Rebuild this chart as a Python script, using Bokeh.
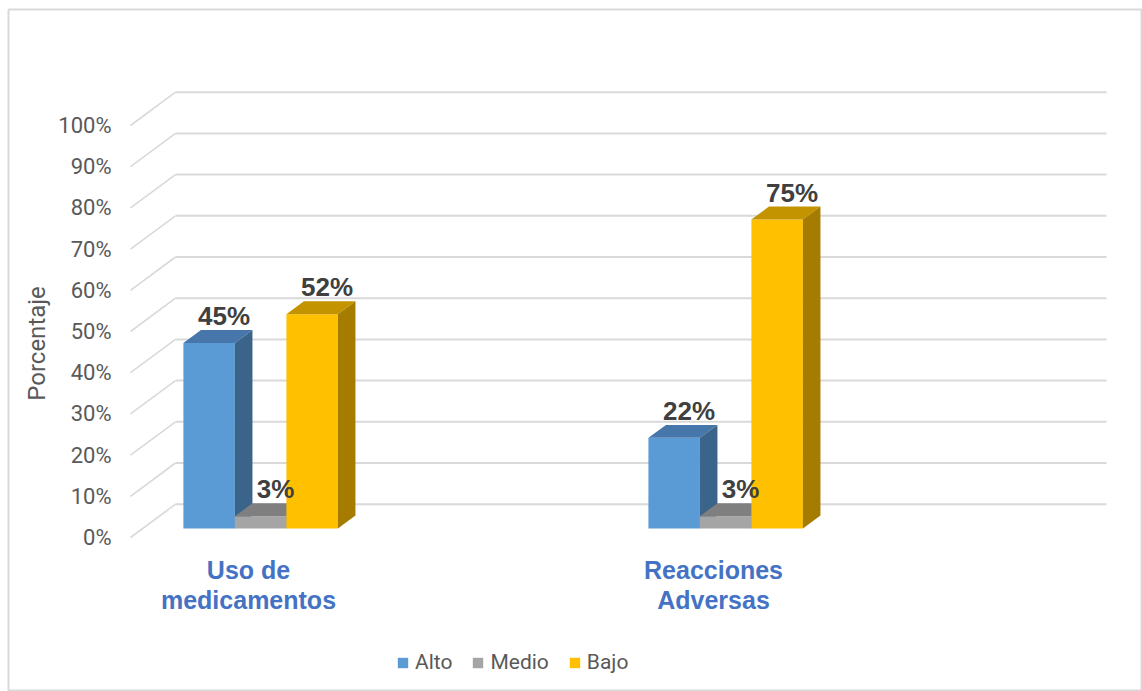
import math
from bokeh.plotting import figure
from bokeh.models import Range1d, Legend, LegendItem
from bokeh.core.properties import value
from bokeh.embed import file_html
from bokeh.resources import INLINE

# ---------------- data ----------------
categories = ["Uso de medicamentos", "Reacciones Adversas"]
category_lines = [["Uso de", "medicamentos"], ["Reacciones", "Adversas"]]
series = ["Alto", "Medio", "Bajo"]
alto = [45, 22]
medio = [3, 3]
bajo = [52, 75]
y_ticks = [0, 10, 20, 30, 40, 50, 60, 70, 80, 90, 100]
y_tick_labels = ["0%", "10%", "20%", "30%", "40%", "50%", "60%", "70%", "80%", "90%", "100%"]
y_title = "Porcentaje"

# ---------------- styling / layout ----------------
front_colors = ["#5B9BD5", "#A5A5A5", "#FFC000"]
top_colors = ["#4777AA", "#7F7F7F", "#C39300"]
side_colors = ["#3A6489", "#6E6E6E", "#A57C00"]
GRID = "#D9D9D9"
TXT = "#595959"

W, H = 1142, 691
FL, FT, FR, FB = 8, 9, 1141, 690          # frame edges (page pixels)
PXX = 465.0      # pixels per category unit
PXY = 4.12       # pixels per percent
X0_IMG, Y0_IMG = 248.0, 537.0   # page position of category 0 / 0 %

def X(px):
    return (px - X0_IMG) / PXX

def V(px):
    return (Y0_IMG - px) / PXY

DX = 45.0 / PXX
DY = 33.3 / PXY
Z0, Z1 = 0.27, 0.66
BW = 51.5 / PXX
FRONT_LEFT = X(130)
BACK_RIGHT = X(1106)

p = figure(width=W, height=H, output_backend="svg", toolbar_location=None,
           x_range=Range1d(X(FL), X(FR)), y_range=Range1d(V(FB), V(FT)),
           x_axis_type=None, y_axis_type=None,
           min_border_left=FL, min_border_top=FT,
           min_border_right=W - FR, min_border_bottom=H - FB)
p.grid.visible = False
p.outline_line_color = GRID
p.outline_line_width = 2
p.background_fill_color = "white"
p.border_fill_color = "white"

# gridlines (front diagonal + back wall)
p.segment(x0=[FRONT_LEFT] * len(y_ticks), y0=y_ticks,
          x1=[FRONT_LEFT + DX] * len(y_ticks), y1=[t + DY for t in y_ticks],
          line_color=GRID, line_width=1.6)
p.segment(x0=[FRONT_LEFT + DX] * len(y_ticks), y0=[t + DY for t in y_ticks],
          x1=[BACK_RIGHT] * len(y_ticks), y1=[t + DY for t in y_ticks],
          line_color=GRID, line_width=2)

# tick labels
p.text(x=[X(111)] * len(y_ticks), y=y_ticks, text=y_tick_labels,
       text_align="right", text_baseline="middle",
       text_font=value("Roboto"), text_font_size="22px", text_color=TXT)

# axis title
p.text(x=[X(36)], y=[V(343)], text=[y_title], angle=math.pi / 2,
       text_align="center", text_baseline="middle",
       text_font=value("Roboto"), text_font_size="24px", text_color=TXT)

# bars
values = [alto, medio, bajo]
offsets = [-BW, 0.0, BW]
front_renderers = []
dz = Z1 - Z0
lx, ly, lt = [], [], []
for s, (name, vals) in enumerate(zip(series, values)):
    L, R, B, T = [], [], [], []
    txs, tys, sxs, sys_ = [], [], [], []
    for i, v in enumerate(vals):
        c = i + offsets[s]
        l = c - BW / 2 + Z0 * DX
        r = c + BW / 2 + Z0 * DX
        b = Z0 * DY
        t = v + Z0 * DY
        L.append(l); R.append(r); B.append(b); T.append(t)
        txs.append([l, r, r + dz * DX, l + dz * DX])
        tys.append([t, t, t + dz * DY, t + dz * DY])
        sxs.append([r, r + dz * DX, r + dz * DX, r])
        sys_.append([b, b + dz * DY, t + dz * DY, t])
        lx.append(c + 0.6 * DX)
        ly.append(v + Z1 * DY + 14.0 / PXY)
        lt.append(f"{v}%")
    fr = p.quad(left=L, right=R, bottom=B, top=T, fill_color=front_colors[s], line_color=None)
    p.patches(xs=txs, ys=tys, fill_color=top_colors[s], line_color=None)
    p.patches(xs=sxs, ys=sys_, fill_color=side_colors[s], line_color=None)
    front_renderers.append(fr)

# value labels (on top of all bars)
p.text(x=lx, y=ly, text=lt, text_align="center", text_baseline="middle",
       text_font=value("Liberation Sans"), text_font_style="bold",
       text_font_size="26px", text_color="#404040")

# category labels
cx, cy, ct = [], [], []
for i, lines in enumerate(category_lines):
    for j, line in enumerate(lines):
        cx.append(i)
        cy.append(V(569 + 30 * j))
        ct.append(line)
p.text(x=cx, y=cy, text=ct, text_align="center", text_baseline="middle",
       text_font=value("Liberation Sans"), text_font_style="bold",
       text_font_size="25px", text_color="#4472C4")

legend = Legend(items=[LegendItem(label=n, renderers=[r]) for n, r in zip(series, front_renderers)],
                orientation="horizontal", location=(388, 16),
                glyph_width=13, glyph_height=13, label_standoff=6, spacing=19,
                padding=0, margin=0, border_line_alpha=0, background_fill_alpha=0,
                label_text_font="Roboto", label_text_font_size="21px", label_text_color=TXT)
p.add_layout(legend)

open("out.html", "w").write(file_html(p, INLINE))
